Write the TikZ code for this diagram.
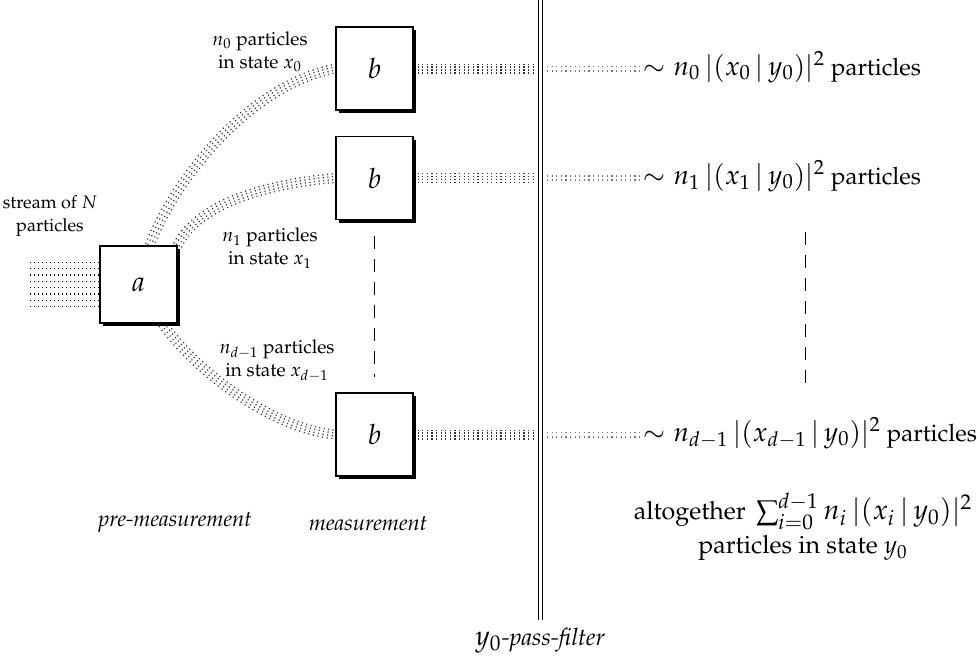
\documentclass[tikz,border=0pt]{standalone}
\usepackage[T1]{fontenc}
\usepackage{mathpazo}
\usetikzlibrary{shadows,backgrounds}
\definecolor{beamc}{gray}{0.2}
\definecolor{beamlight}{gray}{0.45}
\newcommand{\mymath}[1]{{\fontsize{13.5}{16}\selectfont$#1$}}
\newcommand{\altmath}[1]{{\fontsize{14}{16}\selectfont$#1$}}
\begin{document}
\begin{tikzpicture}[x=0.5pt,y=-0.5pt,
  bigfont/.style={font=\fontsize{12}{15}\selectfont},
  altfont/.style={font=\fontsize{12.5}{15}\selectfont},
  smallfont/.style={font=\fontsize{9.5}{11.5}\selectfont},
  boxa/.style={draw, line width=0.6pt, fill=white, inner sep=0pt,
    minimum width=38.5pt, minimum height=38.5pt, font=\fontsize{14}{16}\selectfont,
    drop shadow={shadow xshift=1.5pt, shadow yshift=-1.5pt, opacity=1, fill=black}},
  boxb/.style={boxa, minimum height=41.5pt},
  beam/.style={draw=beamc, line width=5pt, dash pattern=on 0.55pt off 1.75pt,
    postaction={draw=white, line width=3.6pt, solid},
    postaction={draw=beamc, line width=2.2pt, dash pattern=on 0.55pt off 1.75pt},
    postaction={draw=white, line width=0.8pt, solid}},
  thinbeam/.style={draw=beamlight, line width=3pt, dash pattern=on 0.55pt off 1.75pt,
    postaction={draw=white, line width=1.2pt, solid}},
  streamline/.style={draw=black, line width=0.6pt, dash pattern=on 0.6pt off 1.4pt},
  vdash/.style={draw, line width=0.5pt, dash pattern=on 6.5pt off 5pt},
  lbl/.style={smallfont, align=center, inner sep=0pt},
  rtxt/.style={bigfont, anchor=base west, inner sep=1pt},
  itlbl/.style={font=\fontsize{11}{13}\selectfont\itshape},
]
\useasboundingbox (0,0) rectangle (977,660);

% boxes
\node[boxa] (a)  at (138.5,284.5) {$a$};
\node[boxb] (b1) at (374.5,68.5) {$b$};
\node[boxb] (b2) at (374.5,178) {$b$};
\node[boxb] (b3) at (374.5,434.5) {$b$};

% filter
\coordinate (ftop) at (540.5,0);
\coordinate (fbot) at (540.5,620);
\coordinate (fl) at (534,0);
\coordinate (fr) at (547,0);
\draw[double, double distance=1.6pt, line width=0.65pt] (ftop) -- (fbot);

% right texts
\node[rtxt] (r1) at (641,75) {\mymath{\sim n_0\,|(x_0\,|\,y_0)|^2} particles};
\node[rtxt] (r2) at (641,184) {\mymath{\sim n_1\,|(x_1\,|\,y_0)|^2} particles};
\node[rtxt] (r3) at (641,441) {\mymath{\sim n_{d-1}\,|(x_{d-1}\,|\,y_0)|^2} particles};

% beams
\begin{scope}[on background layer]
  \draw[beam] ([xshift=-14pt]a.north east) .. controls +(25,-66) and +(-86,16.5) .. (b1.west);
  \draw[beam] (a.north east) .. controls +(22,-45) and +(-60,5) .. (b2.west);
  \draw[beam] ([xshift=-7.5pt]a.south east) .. controls +(32,46) and +(-66,-6.5) .. (b3.west);
  \draw[beam] ([xshift=2pt]b1.east) -- (b1.east -| fl);
  \draw[beam] ([xshift=2pt]b2.east) -- (b2.east -| fl);
  \draw[beam] ([xshift=2pt]b3.east) -- (b3.east -| fl);
  \draw[thinbeam] (b1.east -| fr) -- (b1.east -| r1.west);
  \draw[thinbeam] (b2.east -| fr) -- (b2.east -| r2.west);
  \draw[thinbeam] (b3.east -| fr) -- (b3.east -| r3.west);
  \foreach \k in {0,...,7}
    \draw[streamline] ([yshift={(3.5-\k)*3.15pt}]a.west) -- ++(-70,0);
\end{scope}

% dashed continuation lines
\draw[vdash] ([yshift=-8pt]b2.south) -- ([yshift=7.5pt]b3.north);
\coordinate (rd1) at (805,232);
\coordinate (rd2) at (805,390);
\draw[vdash] (rd1) -- (rd2);

% labels
\node[lbl, font=\fontsize{9}{11.5}\selectfont] (lstream) at (50,216) {stream of $N$\\particles};
\node[lbl] (l0) at (260,52) {$n_0$ particles\\in state $x_0$};
\node[lbl] (l1) at (270,248) {$n_1$ particles\\in state $x_1$};
\node[lbl] (l2) at (277,361) {$n_{d-1}$ particles\\in state $x_{d-1}$};

\node[itlbl] (pre) at (175,522) {pre-measurement};
\node[itlbl] (meas) at (368,523) {measurement};
\node[altfont, align=center] (alt) at (803,527) {altogether\hspace{2pt} \altmath{\sum_{i=0}^{d-1} n_i\,|(x_i\,|\,y_0)|^2}\\[2pt]particles in state $y_0$};
\node[bigfont] (pf) at (540,641) {\altmath{y_0}\textit{-pass-filter}};
\end{tikzpicture}
\end{document}
